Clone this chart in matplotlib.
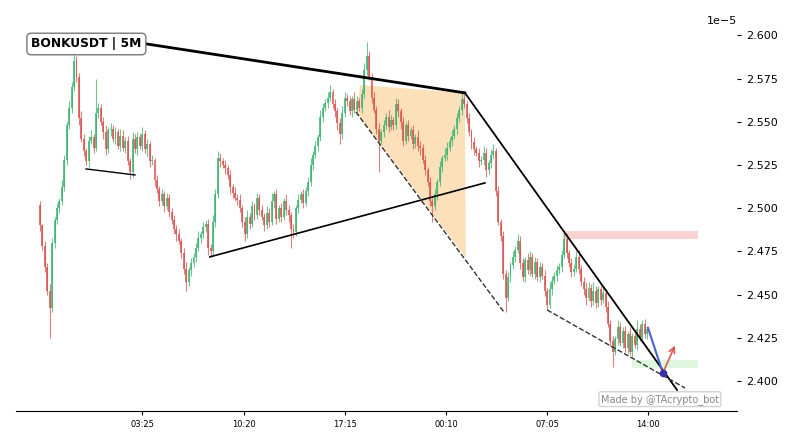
import matplotlib
matplotlib.use('Agg')
import matplotlib.pyplot as plt
from matplotlib.ticker import MultipleLocator, FixedLocator
import numpy as np

# prices are stored in thousandths above BASE, in units of 1e-5
SCALE = 1e-5
BASE = 2.400

first_open = 102
closes = [
    90, 78, 66, 52, 42, 80, 93, 100, 104, 112,
    128, 148, 158, 170, 185, 176, 152, 140, 133, 127,
    139, 141, 135, 155, 158, 150, 144, 134, 145, 146,
    140, 144, 136, 142, 135, 139, 127, 121, 140, 134,
    141, 136, 143, 134, 137, 127, 128, 116, 111, 104,
    108, 101, 106, 98, 93, 88, 85, 81, 74, 65,
    57, 64, 68, 72, 77, 83, 85, 89, 91, 77,
    75, 92, 108, 129, 127, 125, 123, 119, 112, 109,
    106, 105, 100, 92, 85, 95, 91, 101, 96, 106,
    99, 95, 90, 97, 92, 104, 108, 94, 100, 95,
    104, 99, 96, 88, 86, 100, 105, 108, 103, 110,
    115, 125, 131, 136, 141, 153, 158, 161, 164, 167,
    160, 156, 149, 143, 155, 164, 162, 156, 163, 157,
    162, 158, 166, 180, 188, 176, 164, 157, 146, 139,
    144, 148, 153, 147, 151, 148, 160, 156, 150, 139,
    148, 142, 145, 137, 141, 136, 135, 128, 122, 115,
    104, 101, 108, 115, 124, 129, 131, 135, 139, 142,
    146, 152, 157, 163, 160, 152, 144, 138, 134, 132,
    127, 128, 132, 122, 126, 131, 133, 110, 92, 84,
    62, 48, 60, 67, 72, 76, 81, 68, 60, 70,
    64, 72, 62, 69, 60, 66, 61, 52, 44, 53,
    58, 61, 64, 66, 73, 82, 74, 68, 63, 65,
    72, 65, 57, 53, 48, 54, 46, 52, 45, 53,
    47, 51, 43, 33, 23, 17, 24, 31, 22, 29,
    19, 27, 17, 26, 21, 30, 25, 33, 27, 30,
]
# wick length above / below the body, same units
hi_ext = [
    2, 1, 3, 2, 4, 3, 2, 3, 2, 4,
    3, 2, 4, 3, 5, 3, 2, 4, 3, 2,
    3, 4, 2, 20, 3, 2, 3, 4, 2, 3,
    2, 3, 2, 4, 3, 2, 3, 2, 4, 3,
    3, 2, 4, 2, 3, 2, 3, 1, 3, 2,
    3, 2, 3, 2, 2, 3, 2, 3, 2, 3,
    4, 2, 3, 2, 3, 4, 2, 3, 2, 3,
    2, 4, 3, 4, 3, 2, 3, 2, 3, 2,
    3, 2, 3, 2, 3, 4, 2, 3, 2, 3,
    2, 3, 2, 4, 3, 5, 2, 3, 2, 3,
    2, 4, 3, 2, 3, 2, 3, 2, 3, 2,
    3, 4, 2, 3, 2, 4, 3, 2, 3, 4,
    2, 3, 2, 3, 4, 3, 2, 3, 2, 4,
    3, 2, 3, 4, 8, 3, 2, 3, 2, 3,
    2, 3, 2, 4, 3, 2, 4, 3, 2, 3,
    2, 3, 2, 3, 2, 4, 3, 2, 3, 2,
    3, 2, 3, 2, 3, 2, 4, 3, 2, 3,
    2, 3, 2, 4, 3, 2, 3, 2, 3, 2,
    3, 2, 4, 3, 2, 3, 4, 2, 3, 2,
    3, 2, 3, 2, 3, 2, 4, 3, 3, 2,
    4, 3, 2, 3, 2, 3, 2, 3, 2, 4,
    3, 2, 3, 2, 3, 4, 3, 2, 3, 2,
    3, 4, 2, 3, 4, 3, 2, 5, 3, 2,
    3, 4, 2, 3, 2, 3, 2, 4, 3, 2,
    3, 2, 4, 2, 3, 5, 3, 2, 3, 2,
]
lo_ext = [
    3, 2, 3, 2, 17, 2, 3, 2, 3, 2,
    2, 3, 2, 3, 2, 3, 4, 2, 3, 2,
    3, 2, 3, 2, 3, 2, 4, 3, 2, 3,
    2, 3, 2, 3, 2, 3, 2, 4, 3, 2,
    3, 2, 3, 2, 4, 3, 2, 3, 2, 3,
    2, 3, 2, 3, 2, 3, 4, 2, 3, 3,
    5, 2, 3, 2, 3, 2, 3, 2, 3, 4,
    3, 2, 3, 2, 3, 2, 3, 2, 4, 3,
    2, 3, 2, 3, 4, 2, 3, 2, 3, 2,
    3, 2, 3, 2, 3, 2, 4, 3, 2, 3,
    2, 3, 4, 11, 3, 2, 3, 2, 3, 2,
    3, 2, 3, 2, 3, 2, 3, 2, 3, 2,
    2, 3, 4, 6, 3, 2, 3, 2, 3, 2,
    3, 2, 3, 2, 3, 2, 3, 2, 3, 18,
    2, 3, 2, 3, 2, 3, 2, 3, 4, 3,
    2, 3, 2, 3, 2, 3, 4, 2, 3, 2,
    3, 9, 2, 3, 2, 3, 2, 3, 2, 3,
    2, 3, 2, 3, 2, 3, 2, 4, 3, 2,
    3, 2, 3, 4, 2, 3, 2, 3, 2, 3,
    3, 8, 2, 3, 2, 3, 2, 3, 2, 3,
    2, 3, 2, 3, 2, 3, 2, 3, 3, 2,
    3, 2, 3, 2, 3, 2, 3, 2, 3, 2,
    2, 3, 2, 3, 4, 2, 3, 2, 3, 2,
    3, 2, 3, 2, 3, 9, 2, 3, 2, 3,
    2, 3, 2, 3, 2, 3, 2, 3, 2, 3,
]

# x axis: one candle per 10 minutes, first candle at 20:25
CANDLE_MIN = 10
tick_labels = ['03:25', '10:20', '17:15', '00:10', '07:05', '14:00']
tick_minutes = [420, 835, 1250, 1665, 2080, 2495]

# drawn pattern lines: (x in candle index, price in 1e-5)
upper_line_x = [42.0, 174.3]
upper_line_y = [2.5954, 2.5667]
desc_line_x = [174.3, 261.3]
desc_line_y = [2.5667, 2.3948]
small_sup_x = [18.9, 39.0]
small_sup_y = [2.5227, 2.5192]
long_sup_x = [69.7, 182.5]
long_sup_y = [2.4718, 2.5146]
dash1_x = [129.6, 190.3]
dash1_y = [2.5557, 2.4399]
dash2_x = [208.0, 264.6]
dash2_y = [2.4411, 2.3959]
tri_x = [130.0, 131.3, 174.3, 174.7]
tri_y = [2.5551, 2.5713, 2.5667, 2.4712]
red_zone = (214.5, 269.9, 2.4822, 2.4868)
green_zone = (242.8, 269.9, 2.4075, 2.4122)
blue_x = [249.4, 255.5]
blue_y = [2.4307, 2.4046]
arrow_end = (260.9, 2.4220)


def px(v):
    return (BASE + np.asarray(v, dtype=float) / 1000.0) * SCALE


c = px(closes)
o = px([first_open] + closes[:-1])
top = np.maximum(o, c)
bot = np.minimum(o, c)
hi = top + np.asarray(hi_ext) / 1000.0 * SCALE
lo = bot - np.asarray(lo_ext) / 1000.0 * SCALE
xs = np.arange(len(closes))
up = c >= o

fig = plt.figure(figsize=(7.89, 4.43), dpi=100)
ax = fig.add_axes([0.0203, 0.0722, 0.9138, 0.8648])

green = '#3cb371'
red = '#d9534f'
cols = np.where(up, green, red)

ax.vlines(xs, lo, hi, colors=cols, linewidth=0.8, alpha=0.75, zorder=2)
heights = np.maximum(top - bot, 0.0008 * SCALE)
ax.bar(xs, heights, bottom=bot, width=0.8, color=cols, alpha=0.8,
       linewidth=0, zorder=2)

# pattern drawings
ax.fill(tri_x, np.array(tri_y) * SCALE, color='#fbc880', alpha=0.55,
        linewidth=0, zorder=1)
ax.plot(upper_line_x, np.array(upper_line_y) * SCALE, color='black', lw=2, zorder=3)
ax.plot(desc_line_x, np.array(desc_line_y) * SCALE, color='black', lw=1.3, zorder=3)
ax.plot(small_sup_x, np.array(small_sup_y) * SCALE, color='black', lw=1, zorder=3)
ax.plot(long_sup_x, np.array(long_sup_y) * SCALE, color='black', lw=1.2, zorder=3)
ax.plot(dash1_x, np.array(dash1_y) * SCALE, color='#333333', lw=1, ls='--', zorder=3)
ax.plot(dash2_x, np.array(dash2_y) * SCALE, color='#333333', lw=1, ls='--', zorder=3)

x0, x1, y0, y1 = red_zone
ax.fill_between([x0, x1], y0 * SCALE, y1 * SCALE, color='#f6b5b5', alpha=0.6,
                linewidth=0, zorder=1)
x0, x1, y0, y1 = green_zone
ax.fill_between([x0, x1], y0 * SCALE, y1 * SCALE, color='#c4f2c4', alpha=0.55,
                linewidth=0, zorder=1)

ax.plot(blue_x, np.array(blue_y) * SCALE, color='#4a5fd0', lw=1.5, zorder=4)
ax.annotate('', xy=(arrow_end[0], arrow_end[1] * SCALE),
            xytext=(blue_x[1], blue_y[1] * SCALE),
            arrowprops=dict(arrowstyle='->', color='#d9534f', lw=1.3, alpha=0.9),
            zorder=4)
ax.plot(blue_x[1], blue_y[1] * SCALE, 'o', color='#3b2fa8', ms=4.5, zorder=5)

# axes styling
ax.set_xlim(-9.8, 285.9)
ax.set_ylim(2.3826 * SCALE, 2.6043 * SCALE)
ax.yaxis.tick_right()
ax.yaxis.set_offset_position('right')
ax.yaxis.set_major_locator(MultipleLocator(0.025 * SCALE))
ax.xaxis.set_major_locator(FixedLocator([m / CANDLE_MIN for m in tick_minutes]))
ax.set_xticklabels(tick_labels)
ax.tick_params(axis='x', labelsize=6, length=3, width=0.8)
ax.tick_params(axis='y', labelsize=8, length=3, width=0.8)
ax.yaxis.get_offset_text().set_fontsize(8)
for side in ['left', 'top', 'right']:
    ax.spines[side].set_visible(False)

ax.text(0.021, 0.958, 'BONKUSDT | 5M', transform=ax.transAxes, fontsize=8.8,
        fontweight='bold', ha='left', va='center', zorder=10,
        bbox=dict(boxstyle='round,pad=0.35', fc='white', ec='#777777', lw=1))
ax.text(0.893, 0.031, 'Made by @TAcrypto_bot', transform=ax.transAxes, fontsize=7,
        color='#888888', ha='center', va='center', zorder=10,
        bbox=dict(boxstyle='round,pad=0.2', fc='white', ec='#cccccc', lw=1, alpha=0.9))

plt.savefig('out.png', dpi=100)
